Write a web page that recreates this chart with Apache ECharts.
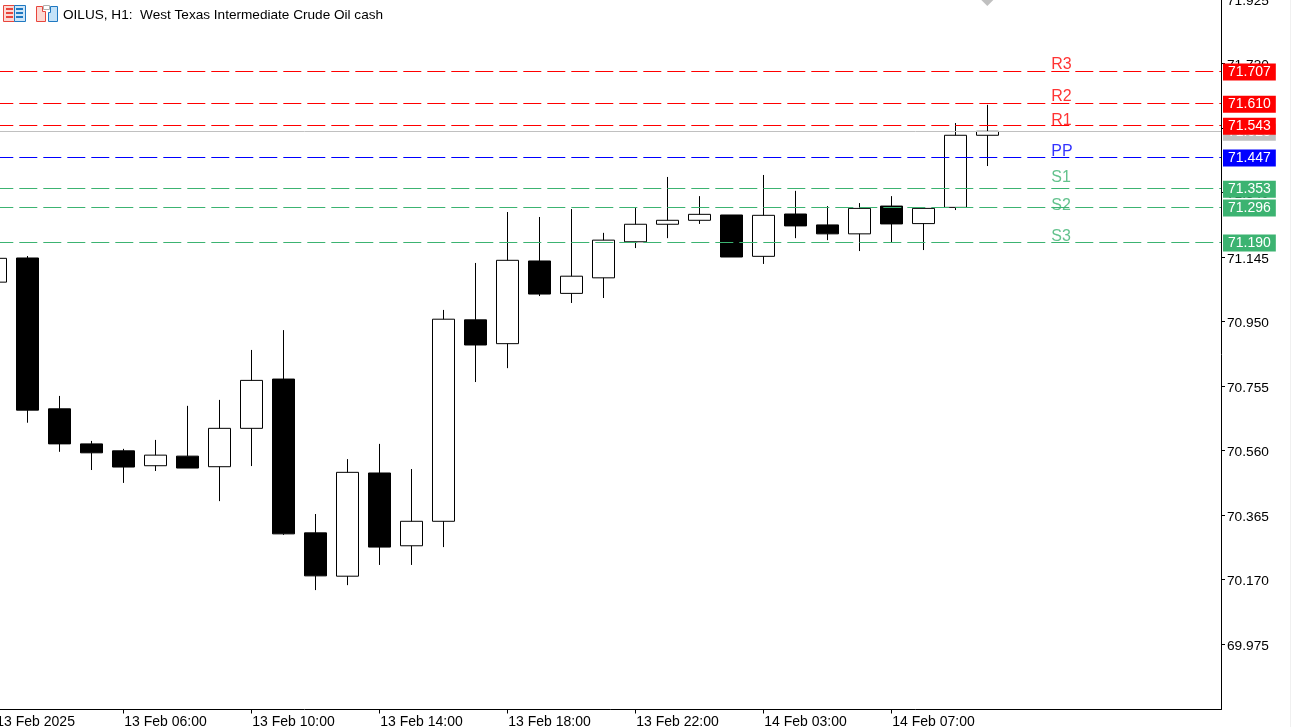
<!DOCTYPE html>
<html>
<head>
<meta charset="utf-8">
<title>OILUS H1</title>
<style>html,body{margin:0;padding:0;background:#fff;overflow:hidden}#chart{width:1291px;height:727px}</style>
<script src="https://cdn.jsdelivr.net/npm/echarts@6/dist/echarts.min.js"></script>
</head>
<body>
<div id="chart"></div>
<script>
// hourly bars, index 0 is the one cut off by the left edge
var opens  = [71.069,71.142,70.686,70.580,70.559,70.514,70.543,70.511,70.627,70.776,70.311,70.180,70.492,70.272,70.346,70.955,
              70.883,71.133,71.035,71.082,71.191,71.244,71.256,71.272,71.147,71.275,71.242,71.215,71.299,71.246,71.295,71.513];
var closes = [71.141,70.682,70.580,70.553,70.510,70.546,70.507,70.627,70.772,70.308,70.181,70.494,70.268,70.346,70.957,70.879,
              71.135,71.033,71.087,71.196,71.244,71.256,71.274,71.145,71.271,71.239,71.215,71.292,71.245,71.292,71.513,71.525];
var lows   = [71.069,70.644,70.556,70.501,70.462,70.498,70.507,70.407,70.513,70.305,70.138,70.153,70.214,70.214,70.268,70.767,
              70.809,71.027,71.006,71.021,71.172,71.202,71.245,71.145,71.124,71.202,71.196,71.163,71.190,71.166,71.287,71.420];
var highs  = [71.141,71.148,70.725,70.589,70.565,70.592,70.695,70.713,70.864,70.924,70.368,70.534,70.580,70.504,70.985,71.127,
              71.281,71.266,71.290,71.218,71.293,71.387,71.329,71.272,71.393,71.345,71.299,71.308,71.329,71.292,71.550,71.605];

var levelNames  = ['R3','R2','R1','PP','S1','S2','S3'];
var levelValues = [71.707,71.610,71.543,71.447,71.353,71.296,71.190];
var bidPrice = 71.525;

var priceTicks = [71.925,71.730,71.535,71.340,71.145,70.950,70.755,70.560,70.365,70.170,69.975];
var timeTicks  = [0,4,8,12,16,20,24,28];
var timeLabels = ['13 Feb 2025','13 Feb 06:00','13 Feb 10:00','13 Feb 14:00','13 Feb 18:00','13 Feb 22:00','14 Feb 03:00','14 Feb 07:00'];

// styling, not data
var levelColors = ['#ff0000','#ff0000','#ff0000','#0000ff','#3cb371','#3cb371','#3cb371'];
var labelShift  = [-7,-7,-5,-6,-11,-1,-6];
var FONT = 'Liberation Sans';

var candles = opens.map(function (o, i) { return [i, o, closes[i], lows[i], highs[i]]; });

var priceTag = function (bg) {
    return {
        show: true, position: 'end', distance: 2, offset: [0, 1], formatter: function (p) { return p.value.toFixed(3); },
        color: '#fff', backgroundColor: bg, padding: [0, 5], lineHeight: 17, height: 17,
        fontFamily: FONT, fontSize: 14
    };
};

var RED = '#e8453c', BLUE = '#1f78c1';

var chart = echarts.init(document.getElementById('chart'), null, {renderer: 'canvas'});
chart.setOption({
    animation: false,
    backgroundColor: '#fff',
    title: {
        text: 'OILUS, H1:  West Texas Intermediate Crude Oil cash',
        left: 58, top: 3,
        textStyle: {color: '#000', fontSize: 13.6, fontWeight: 'normal', fontFamily: FONT}
    },
    grid: {left: -20.7, right: 70, top: -1, bottom: 17.5, outerBoundsMode: 'none'},
    xAxis: {
        type: 'value', min: -0.5, max: 38.303, splitLine: {show: false},
        axisLine: {lineStyle: {color: '#000'}},
        axisTick: {length: 4, lineStyle: {color: '#000'}, customValues: timeTicks},
        axisLabel: {
            customValues: timeTicks, align: 'left', margin: 6, padding: [0, 0, 0, 1], color: '#000', fontSize: 14, fontFamily: FONT,
            formatter: function (v) { return timeLabels[timeTicks.indexOf(v)]; }
        }
    },
    yAxis: {
        type: 'value', position: 'right', min: 69.777, max: 71.925, splitLine: {show: false},
        axisLine: {show: true, onZero: false, lineStyle: {color: '#000'}},
        axisTick: {length: 4, lineStyle: {color: '#000'}, customValues: priceTicks},
        axisLabel: {
            customValues: priceTicks, margin: 6, verticalAlign: 'top', lineHeight: 4, color: '#000', fontSize: 13.7, fontFamily: FONT,
            formatter: function (v) { return v.toFixed(3); }
        }
    },
    graphic: [
        // toolbar icons in the corner
        {type: 'rect', shape: {x: 3.5, y: 5.5, width: 11, height: 16}, style: {fill: '#fcd9d4', stroke: RED}},
        {type: 'rect', shape: {x: 14.5, y: 5.5, width: 11, height: 16}, style: {fill: '#cfe6f8', stroke: BLUE}},
        {type: 'rect', shape: {x: 6, y: 8, width: 7, height: 2}, style: {fill: RED}},
        {type: 'rect', shape: {x: 6, y: 12, width: 7, height: 2}, style: {fill: RED}},
        {type: 'rect', shape: {x: 6, y: 16, width: 7, height: 2}, style: {fill: RED}},
        {type: 'rect', shape: {x: 16, y: 8, width: 7, height: 2}, style: {fill: BLUE}},
        {type: 'rect', shape: {x: 16, y: 12, width: 7, height: 2}, style: {fill: BLUE}},
        {type: 'rect', shape: {x: 16, y: 16, width: 7, height: 2}, style: {fill: BLUE}},
        {type: 'polygon', shape: {points: [[36.5, 6.5], [42.5, 6.5], [42.5, 11.5], [45.5, 11.5], [45.5, 21.5], [36.5, 21.5]]}, style: {fill: '#fcd9d4', stroke: RED}},
        {type: 'polygon', shape: {points: [[50.5, 6.5], [57.5, 6.5], [57.5, 21.5], [48.5, 21.5], [48.5, 12.5], [50.5, 12.5]]}, style: {fill: '#c4e2f8', stroke: BLUE}},
        {type: 'rect', shape: {x: 43.5, y: 5.5, width: 6, height: 4}, style: {fill: '#fff', stroke: '#b0b0b0'}},
        // window edge
        {type: 'rect', shape: {x: 1290, y: 0, width: 1, height: 727}, style: {fill: '#f0f0f0'}}
    ],
    series: [
        {
            type: 'line', data: [], z: 1, silent: true,
            markLine: {
                silent: true, symbol: 'none', precision: 3, animation: false,
                data: [{yAxis: bidPrice}],
                lineStyle: {color: '#c0c0c0', type: 'solid', width: 1},
                label: priceTag('#c0c0c0')
            }
        },
        {
            type: 'candlestick', data: candles, barWidth: 22, z: 2, silent: true,
            itemStyle: {color: '#fff', color0: '#000', borderColor: '#000', borderColor0: '#000', borderWidth: 1},
            markPoint: {
                silent: true, symbol: 'diamond', symbolSize: 12, animation: false,
                itemStyle: {color: '#c0c0c0'}, label: {show: false},
                data: [{coord: [31, 71.922]}]
            }
        },
        {
            type: 'line', data: [], z: 3, silent: true,
            markLine: {
                silent: true, symbol: 'none', precision: 3, animation: false,
                data: levelValues.map(function (v, i) {
                    return {
                        yAxis: v,
                        lineStyle: {color: levelColors[i], type: [18, 6], dashOffset: 8, width: 1},
                        label: priceTag(levelColors[i])
                    };
                })
            }
        },
        {
            type: 'scatter', symbolSize: 0, z: 4, silent: true,
            data: levelValues.map(function (v, i) {
                return {
                    value: [33, v],
                    label: {
                        show: true, position: 'right', distance: 0, offset: [0, labelShift[i]],
                        formatter: levelNames[i], color: levelColors[i], fontFamily: FONT, fontSize: 16
                    }
                };
            })
        }
    ]
});
</script>
</body>
</html>
